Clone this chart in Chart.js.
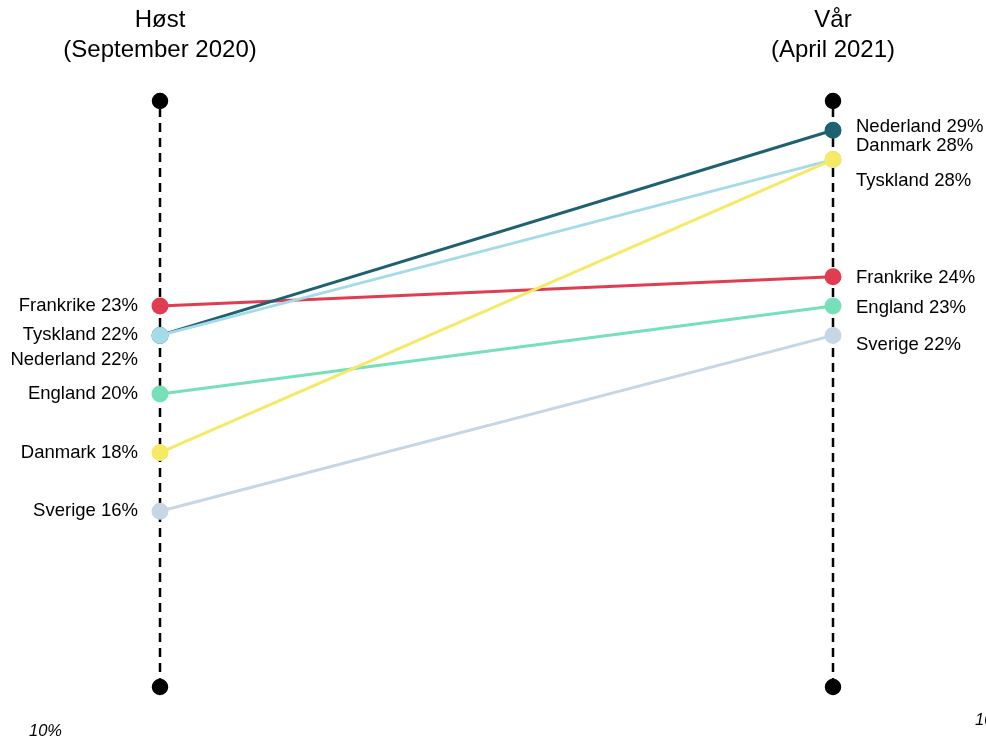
<!DOCTYPE html>
<html>
<head>
<meta charset="utf-8">
<script src="https://cdn.jsdelivr.net/npm/chart.js@4/dist/chart.umd.min.js"></script>
<style>
  html, body { margin: 0; padding: 0; background: #fff; }
  #wrap { width: 986px; height: 739px; }
</style>
</head>
<body>
<div id="wrap"><canvas id="myChart" width="986" height="739"></canvas></div>
<script>
// periods (left / right)
const periods = ['Høst\n(September 2020)', 'Vår\n(April 2021)'];

// countries and shares (%)
const countries = ['Nederland', 'Tyskland', 'Danmark', 'Frankrike', 'England', 'Sverige'];
const autumn = [22, 22, 18, 23, 20, 16];
const spring = [29, 28, 28, 24, 23, 22];
const colors = ['#1e6170', '#a5dbe8', '#f6e965', '#e03c52', '#76e0b9', '#c6d6e4'];

const axisMin = 10;
const axisMax = 30;

// label nudges in px so overlapping labels don't collide
const leftNudge = [25, 0, 0, 0, 0, 0];
const rightNudge = [-3, 21, -14, 1, 2, 10];

var datasets = [];

// the two dashed vertical axes
[0, 1].forEach(function (x) {
    datasets.push({
        data: [{x: x, y: axisMin}, {x: x, y: axisMax}],
        borderColor: '#000',
        backgroundColor: '#000',
        borderWidth: 2.5,
        borderDash: [9, 6],
        pointRadius: 7,
        pointHoverRadius: 7,
        order: 20,
        clip: false
    });
});

for (var i = 0; i < countries.length; i++) {
    datasets.push({
        label: countries[i],
        data: [{x: 0, y: autumn[i]}, {x: 1, y: spring[i]}],
        borderColor: colors[i],
        backgroundColor: colors[i],
        pointBorderColor: colors[i],
        borderWidth: 3,
        pointRadius: 7,
        pointHoverRadius: 7,
        order: (countries[i] === 'Danmark') ? 0 : (countries[i] === 'Tyskland' ? 1 : 2 + i),
        clip: false
    });
}

const slopeLabels = {
    id: 'slopeLabels',
    afterDraw(chart) {
        const ctx = chart.ctx;
        const xs = chart.scales.x;
        const ys = chart.scales.y;
        ctx.save();
        ctx.fillStyle = '#000';

        // column headers
        ctx.font = '24px "Liberation Sans", Arial, sans-serif';
        ctx.textAlign = 'center';
        ctx.textBaseline = 'middle';
        periods.forEach(function (p, j) {
            const lines = p.split('\n');
            lines.forEach(function (line, k) {
                ctx.fillText(line, xs.getPixelForValue(j), 20 + k * 30);
            });
        });

        // country labels
        ctx.font = '18.5px "Liberation Sans", Arial, sans-serif';
        for (var i = 0; i < countries.length; i++) {
            ctx.textAlign = 'right';
            ctx.fillText(countries[i] + ' ' + autumn[i] + '%',
                xs.getPixelForValue(0) - 22, ys.getPixelForValue(autumn[i]) + leftNudge[i]);
            ctx.textAlign = 'left';
            ctx.fillText(countries[i] + ' ' + spring[i] + '%',
                xs.getPixelForValue(1) + 23, ys.getPixelForValue(spring[i]) + rightNudge[i]);
        }

        // axis minimum note
        ctx.font = 'italic 16.5px "Liberation Sans", Arial, sans-serif';
        ctx.textAlign = 'left';
        ctx.fillText(axisMin + '%', 29, 731);
        ctx.fillText(axisMin + '%', 975, 720);
        ctx.restore();
    }
};

var ctx = document.getElementById('myChart').getContext('2d');
var myChart = new Chart(ctx, {
    type: 'line',
    data: { datasets: datasets },
    options: {
        responsive: false,
        animation: false,
        layout: {
            padding: { left: 160, right: 153, top: 101, bottom: 52 }
        },
        scales: {
            x: { type: 'linear', min: 0, max: 1, display: false },
            y: { min: axisMin, max: axisMax, display: false }
        },
        plugins: {
            legend: { display: false },
            tooltip: { enabled: false }
        }
    },
    plugins: [slopeLabels]
});
</script>
</body>
</html>
